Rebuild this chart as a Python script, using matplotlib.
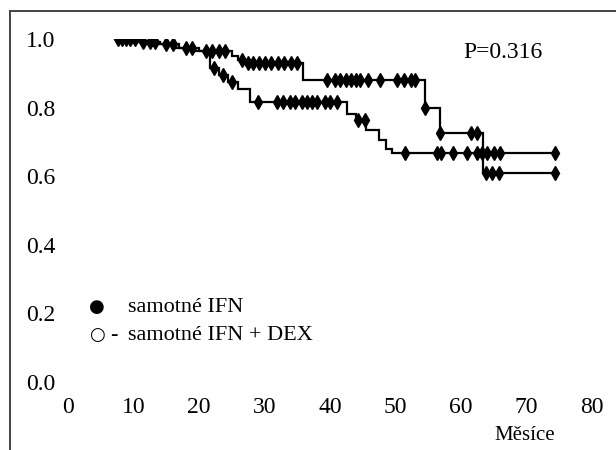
import matplotlib
matplotlib.use("Agg")
import matplotlib.pyplot as plt
from matplotlib.lines import Line2D
import numpy as np

# ---- data ----
x_ticks = [0, 10, 20, 30, 40, 50, 60, 70, 80]
y_ticks = [0.0, 0.2, 0.4, 0.6, 0.8, 1.0]
y_tick_labels = ["0.0", "0.2", "0.4", "0.6", "0.8", "1.0"]

# group 1: samotné IFN (step times and survival after each step)
ifn_times = [7.3, 11, 14, 17, 20, 25, 26, 27, 35.9, 54.5, 56.8, 63.4, 74.5]
ifn_surv = [1.0, 0.99, 0.985, 0.975, 0.965, 0.95, 0.94, 0.93, 0.88, 0.80, 0.725, 0.61, 0.61]
ifn_censor = [7.6, 8.2, 8.8, 9.5, 10.3, 11.5, 12.5, 13.3, 15, 16, 18, 19, 21, 22, 23, 24,
              26.5, 27.5, 28.3, 29.2, 30, 31, 32, 33, 34, 35,
              39.5, 40.8, 41.6, 42.4, 43.2, 44, 44.6, 45.8, 47.6, 50.2, 51.3, 52.3, 53.0,
              54.5, 56.8, 61.5, 62.5, 63.8, 64.8, 65.8, 74.3]

# group 2: samotné IFN + DEX
dex_times = [7.3, 10, 13, 16, 19, 21.7, 23, 24.5, 26, 27.8, 42.6, 44, 45.5, 47.5, 48.5, 49.5, 74.5]
dex_surv = [1.0, 0.99, 0.985, 0.975, 0.965, 0.915, 0.895, 0.875, 0.855, 0.815, 0.78, 0.765,
            0.735, 0.705, 0.68, 0.667, 0.667]
dex_censor = [22.3, 23.6, 25, 29, 31.9, 32.8, 33.9, 34.7, 35.7, 36.5, 37.3, 38, 39.2, 40, 41,
              44.3, 45.3, 51.4, 56.3, 56.9, 58.8, 60.9, 62.4, 63.2, 64.0, 65.0, 66.0, 74.3]

p_text = "P=0.316"
legend_1 = "samotné IFN"
legend_2 = "samotné IFN + DEX"
x_label = "Měsíce"

W, H = 616, 450
fig = plt.figure(figsize=(W / 100, H / 100), dpi=100)
fig.patch.set_facecolor("white")

def fx(px):
    return px / W

def fy(py):
    return 1 - py / H

ax = fig.add_axes([fx(68), fy(382), (592 - 68) / W, (382 - 39) / H])
ax.set_xlim(0, 80)
ax.set_ylim(0, 1)
for s in ax.spines.values():
    s.set_visible(False)

serif = ["Liberation Serif", "DejaVu Serif"]
ax.set_xticks(x_ticks)
ax.set_xticklabels([str(v) for v in x_ticks], family=serif, fontsize=17)
ax.set_yticks(y_ticks)
ax.set_yticklabels(y_tick_labels, family=serif, fontsize=17)
ax.tick_params(axis="x", length=0, pad=11)
ax.tick_params(axis="y", length=0, pad=9)


def surv_at(times, surv, t):
    idx = np.searchsorted(times, t, side="right") - 1
    idx = max(idx, 0)
    return surv[idx]


for times, surv, cens in [(ifn_times, ifn_surv, ifn_censor), (dex_times, dex_surv, dex_censor)]:
    t = np.asarray(times)
    s = np.asarray(surv)
    ax.step(t, s, where="post", color="black", lw=1.6, solid_joinstyle="miter")
    cy = [surv_at(t, s, c) for c in cens]
    ax.plot(cens, cy, linestyle="none", marker="d", ms=7, color="black", mec="black")

# p-value
fig.text(fx(503), fy(52), p_text, family=serif, fontsize=17, ha="center", va="center")

# legend (hand-made, as in the scan)
fig.text(fx(97), fy(307), "●", family=["DejaVu Sans"], fontsize=13, ha="center", va="center")
fig.text(fx(97), fy(335), "○", family=["DejaVu Sans"], fontsize=13, ha="center", va="center")
fig.text(fx(114), fy(335), "-", family=serif, fontsize=16, ha="center", va="center")
fig.text(fx(128), fy(307), legend_1, family=serif, fontsize=16, ha="left", va="center")
fig.text(fx(128), fy(335), legend_2, family=serif, fontsize=16, ha="left", va="center")

# x label
fig.text(fx(525), fy(436), x_label, family=serif, fontsize=15, ha="center", va="center")

# frame lines from the scan
fig.add_artist(Line2D([fx(10), fx(10)], [fy(11), 0], color="#444444", lw=1.4))
fig.add_artist(Line2D([fx(10), 1], [fy(11), fy(11)], color="#444444", lw=1.4))

fig.savefig("out.png", dpi=100, facecolor="white")
